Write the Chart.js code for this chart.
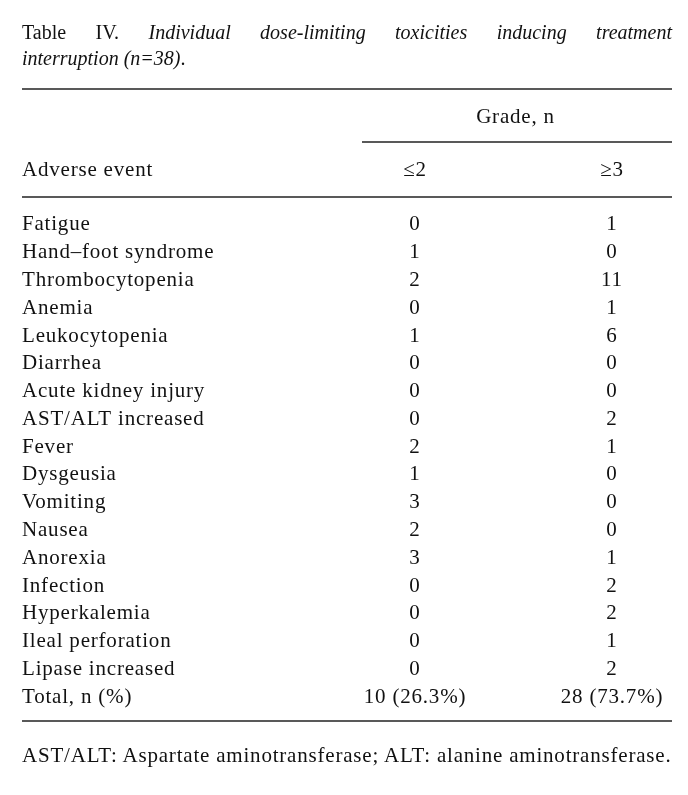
<!DOCTYPE html>
<html><head><meta charset="utf-8">
<script src="https://cdn.jsdelivr.net/npm/chart.js@4"></script>
<style>
html,body{margin:0;padding:0;background:#fff;}
body{width:688px;height:795px;position:relative;overflow:hidden;font-family:'Liberation Serif','Times New Roman',serif;color:#111;}
#wrap{position:absolute;left:0;top:0;width:688px;height:795px;}
.title{position:absolute;left:22px;width:650px;font-size:20px;line-height:26px;}
#t1{top:19px;text-align:justify;text-align-last:justify;white-space:nowrap;}
#t2{top:45px;}
#foot{position:absolute;left:22px;top:742px;font-size:21px;line-height:26px;white-space:nowrap;letter-spacing:0.8px;}
</style></head><body>
<div id="wrap"><canvas id="c" width="688" height="795"></canvas></div>
<div class="title" id="t1">Table IV. <i>Individual dose-limiting toxicities inducing treatment</i></div>
<div class="title" id="t2"><i>interruption (n=38)</i>.</div>
<div id="foot">AST/ALT: Aspartate aminotransferase; ALT: alanine aminotransferase.</div>
<script>
// ---- data ----
const events = ['Fatigue','Hand\u2013foot syndrome','Thrombocytopenia','Anemia','Leukocytopenia','Diarrhea','Acute kidney injury','AST/ALT increased','Fever','Dysgeusia','Vomiting','Nausea','Anorexia','Infection','Hyperkalemia','Ileal perforation','Lipase increased'];
const gradeLe2 = [0,1,2,0,1,0,0,0,2,1,3,2,3,0,0,0,0];
const gradeGe3 = [1,0,11,1,6,0,0,2,1,0,0,0,1,2,2,1,2];
const totalLabel = 'Total, n (%)';
const totalsText = ['10 (26.3%)','28 (73.7%)'];
const columns = ['\u22642','\u22653'];
const groupHeader = 'Grade, n';
const stubHeader = 'Adverse event';

// ---- build ----
const rows = events.concat([totalLabel]);
const colValues = [gradeLe2, gradeGe3];
const FONT = "'Liberation Serif','Times New Roman',serif";
const FS = 21;
const INK = '#111';
const SPACING = '0.8px';

function cellText(c, i){ return i < events.length ? String(colValues[c][i]) : totalsText[c]; }

const datasets = columns.map((col, c) => ({
  label: col,
  data: rows.map(r => ({x: col, y: r})),
  pointRadius: 0, pointHoverRadius: 0, showLine: false
}));

const tablePlugin = {
  id: 'tablePlugin',
  beforeDraw(chart){
    if ('letterSpacing' in chart.ctx) chart.ctx.letterSpacing = SPACING;
  },
  afterDatasetsDraw(chart){
    const ctx = chart.ctx;
    ctx.save();
    if ('letterSpacing' in ctx) ctx.letterSpacing = SPACING;
    ctx.fillStyle = INK;
    ctx.font = FS + 'px ' + FONT;
    ctx.textAlign = 'center';
    ctx.textBaseline = 'middle';
    chart.data.datasets.forEach((ds, c) => {
      chart.getDatasetMeta(c).data.forEach((el, i) => {
        ctx.fillText(cellText(c, i), el.x, el.y);
      });
    });
    // headers
    const xs = chart.scales.x, ca = chart.chartArea;
    const yAx = chart.scales.y;
    const tableLeft = yAx.left, tableRight = 672;
    columns.forEach((col, c) => ctx.fillText(col, xs.getPixelForValue(c), ca.top - 41));
    ctx.fillText(groupHeader, (xs.getPixelForValue(0) + xs.getPixelForValue(1)) / 2 + 2, ca.top - 94);
    ctx.textAlign = 'left';
    ctx.fillText(stubHeader, tableLeft, ca.top - 41);
    // rules
    ctx.strokeStyle = '#222';
    ctx.lineWidth = 1.5;
    const hline = (x1, x2, y) => { ctx.beginPath(); ctx.moveTo(x1, y); ctx.lineTo(x2, y); ctx.stroke(); };
    hline(tableLeft, tableRight, ca.top - 122);
    hline(362, tableRight, ca.top - 69);
    hline(tableLeft, tableRight, ca.top - 14);
    hline(tableLeft, tableRight, ca.bottom + 10);
    ctx.restore();
  }
};

new Chart(document.getElementById('c'), {
  type: 'scatter',
  data: { datasets },
  options: {
    responsive: false, animation: false, events: [],
    layout: { padding: { left: 22, right: 76, top: 211, bottom: 84 } },
    plugins: { legend: { display: false }, tooltip: { enabled: false } },
    scales: {
      x: { type: 'category', labels: columns, offset: false, display: false },
      y: {
        type: 'category', labels: rows, offset: true,
        grid: { display: false }, border: { display: false },
        afterFit(scale){ scale.width = 393; },
        ticks: { autoSkip: false, crossAlign: 'far', color: INK, font: { family: FONT, size: FS } }
      }
    }
  },
  plugins: [tablePlugin]
});
</script>
</body></html>
